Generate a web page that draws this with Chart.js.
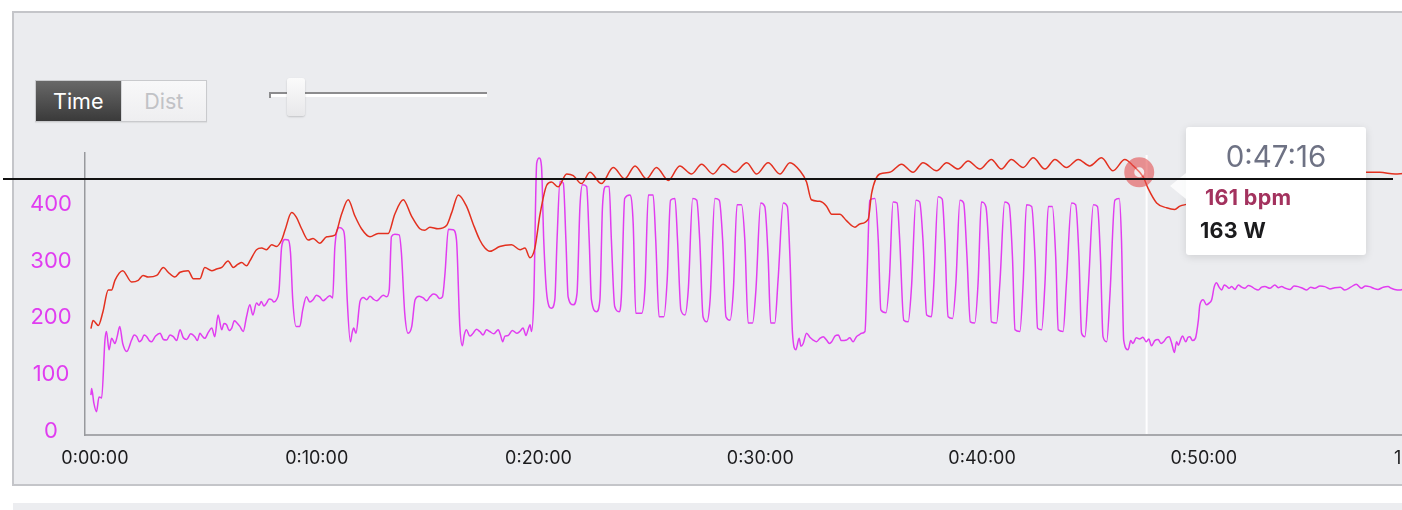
<!DOCTYPE html>
<html><head><meta charset="utf-8">
<script src="https://cdn.jsdelivr.net/npm/chart.js@4.4.1/dist/chart.umd.min.js"></script>
<style>
html,body{margin:0;padding:0;background:#fff;width:1402px;height:510px;overflow:hidden;font-family:Inter,"Liberation Sans",sans-serif;}
#panel{position:absolute;left:12px;top:11px;width:1500px;height:471px;background:#ebecef;border:2px solid #c4c5c9;}
#strip{position:absolute;left:13px;top:503px;width:1500px;height:20px;background:#ecedf0;}
#seg{position:absolute;left:35px;top:80px;width:172px;height:42px;display:flex;border:1px solid #c9cacd;box-sizing:border-box;box-shadow:0 1px 1px rgba(0,0,0,0.06);}
#seg div{width:50%;text-align:center;line-height:40px;font-size:21.5px;}
#seg .on{background:linear-gradient(#686868,#3a3a3a);color:#fff;}
#seg .off{background:linear-gradient(#f8f8f9,#eeeef0);color:#c1c2c6;border-left:1px solid #d6d7da;}
#track{position:absolute;left:269px;top:92px;width:218px;height:2px;background:#8c8c8e;}
#track2{position:absolute;left:269px;top:94px;width:218px;height:3px;background:#fff;}
#tick{position:absolute;left:269px;top:92px;width:2px;height:6px;background:#8c8c8e;}
#thumb{position:absolute;left:287px;top:78px;width:18px;height:38px;border-radius:3px;background:linear-gradient(#fbfbfb,#e8e8ea);box-shadow:0 1px 2px rgba(0,0,0,0.18);}
#c{position:absolute;left:0;top:0;z-index:2;}
#tip{position:absolute;display:none;z-index:3;width:180px;height:128px;background:#fff;border-radius:3px;box-shadow:0 2px 8px rgba(0,0,0,0.12);box-sizing:border-box;}
#tip:before{content:"";position:absolute;left:-16px;top:46px;border-top:13px solid transparent;border-bottom:13px solid transparent;border-right:16px solid rgba(255,255,255,0.8);}
#tipTitle{text-align:center;font-size:29.5px;color:#6e7284;padding-top:12px;line-height:35px;}
#tipBody{padding-top:11px;}
#tipBody div{font-weight:700;font-size:21.5px;line-height:24px;margin-bottom:9px;letter-spacing:0.3px;}
#refline{position:absolute;left:3px;width:1390px;height:2px;background:#111;z-index:4;}
</style>
</head><body>
<div id="panel"></div>
<div id="strip"></div>
<div id="seg"><div class="on">Time</div><div class="off">Dist</div></div>
<div id="track"></div><div id="track2"></div><div id="tick"></div><div id="thumb"></div>
<canvas id="c" width="1480" height="510" style="width:1480px;height:510px"></canvas>
<div id="tip"><div id="tipTitle"></div><div id="tipBody"></div></div>
<div id="refline"></div>
<script>
// ---- data (time in seconds) ----
const hrSeconds = [0,6,20,32,47,56,65,86,110,128,141,155,178,196,209,227,241,263,277,295,308,327,340,354,371,385,398,408,421,430,448,462,475,489,502,516,525,543,556,570,588,601,619,638,660,678,696,714,732,755,777,804,822,845,867,890,903,917,939,962,976,994,1016,1034,1052,1066,1079,1106,1138,1161,1174,1188,1201,1215,1233,1246,1264,1287,1305,1327,1350,1381,1413,1444,1472,1503,1530,1562,1593,1625,1652,1683,1710,1742,1774,1801,1832,1864,1891,1918,1936,1949,1972,1990,2004,2026,2044,2067,2080,2103,2112,2134,2161,2193,2224,2251,2288,2315,2346,2373,2405,2436,2463,2490,2522,2549,2581,2608,2639,2671,2702,2734,2765,2797,2820,2847,2860,2883,2910,2932,2946,2986,3040,3108,3189,3270,3351,3449,3487,3528,3596,3720];
const hrBpm = [64,69,66,74,88,88,94,100,93,94,97,96,97,102,99,96,99,100,95,95,102,100,101,102,106,102,104,105,103,106,113,114,113,116,115,119,125,136,133,126,119,120,117,121,122,135,144,134,126,121,123,123,135,144,134,126,125,127,126,128,136,147,140,129,119,114,112,115,116,113,114,108,114,135,153,155,152,160,159,154,161,154,164,157,165,157,164,156,165,160,166,160,166,161,167,160,167,160,167,162,155,144,143,140,135,135,131,127,129,132,148,160,161,166,161,167,162,167,163,168,163,169,163,169,164,170,163,169,164,169,165,170,162,169,165,158,151,142,139,138,140,142,144,150,155,158,159,161,161,160,161,161];

const powerSeconds = [0,2,8,15,22,29,38,42,49,56,65,71,78,86,97,110,117,124,131,137,144,151,158,164,175,187,196,205,214,223,232,241,250,259,270,281,288,295,301,308,318,327,335,344,354,360,367,374,381,388,394,403,412,421,430,438,448,455,461,468,475,482,489,495,502,509,516,525,534,540,546,555,565,573,583,592,601,610,619,628,638,646,654,660,672,682,687,693,702,707,711,717,728,737,746,755,764,773,782,791,800,807,813,822,834,840,849,858,868,877,888,899,908,917,926,935,943,951,958,967,980,989,998,1005,1010,1016,1025,1034,1043,1052,1061,1070,1079,1090,1102,1108,1114,1120,1129,1140,1152,1160,1169,1177,1183,1188,1192,1198,1206,1213,1219,1225,1234,1246,1255,1261,1269,1278,1285,1291,1305,1315,1323,1330,1341,1348,1354,1368,1377,1384,1393,1402,1408,1417,1429,1435,1444,1458,1467,1474,1490,1499,1508,1521,1528,1537,1550,1559,1568,1580,1587,1596,1607,1616,1628,1639,1647,1656,1666,1675,1688,1700,1709,1718,1729,1738,1748,1760,1769,1778,1790,1799,1812,1823,1832,1839,1850,1859,1873,1884,1891,1898,1907,1916,1921,1927,1936,1945,1954,1963,1972,1981,1990,1998,2004,2013,2022,2030,2044,2053,2062,2071,2078,2085,2094,2100,2107,2121,2130,2137,2151,2160,2170,2181,2188,2199,2211,2220,2232,2242,2251,2261,2274,2280,2292,2303,2310,2319,2331,2340,2351,2361,2370,2379,2391,2400,2409,2421,2430,2436,2450,2459,2472,2484,2493,2500,2513,2522,2531,2545,2554,2561,2572,2581,2590,2601,2610,2617,2630,2639,2653,2664,2673,2680,2689,2698,2712,2723,2731,2738,2748,2757,2770,2782,2788,2794,2806,2813,2819,2828,2837,2846,2855,2862,2869,2878,2887,2895,2902,2910,2917,2924,2931,2937,2942,2948,2953,2962,2968,2973,2980,2988,2996,3000,3009,3018,3025,3032,3039,3045,3052,3059,3066,3072,3079,3086,3095,3104,3113,3122,3131,3140,3149,3158,3167,3176,3190,3203,3212,3221,3232,3244,3255,3266,3278,3289,3300,3311,3325,3338,3352,3365,3380,3392,3408,3423,3437,3448,3459,3470,3482,3496,3509,3518,3527,3542,3560,3580,3600,3620,3640,3660,3680,3700,3720];
const powerWatts = [64,76,50,35,61,59,161,176,144,164,155,167,185,155,141,161,170,167,158,161,170,167,160,158,168,173,162,161,170,167,160,179,165,162,172,167,160,173,168,164,175,182,167,205,179,190,188,178,182,195,192,185,176,202,223,205,226,222,229,221,226,233,232,228,232,249,325,338,337,314,232,185,185,214,237,228,232,240,237,230,235,239,235,325,359,355,337,237,158,175,182,173,229,236,232,238,233,230,235,240,237,249,343,347,346,314,208,173,185,232,238,235,230,237,242,240,234,237,279,356,355,337,185,151,170,179,168,173,180,176,170,179,176,172,179,170,158,168,169,178,173,176,182,169,180,188,176,231,472,481,466,337,237,217,232,337,440,437,337,237,223,243,396,434,431,337,232,211,232,396,431,431,337,220,211,237,410,416,366,208,208,255,416,416,337,202,202,267,407,410,337,214,205,249,410,407,337,202,193,231,410,407,337,202,196,249,399,399,337,191,191,249,402,396,308,191,191,267,402,396,308,173,144,164,150,155,173,166,161,158,164,167,161,155,158,168,170,160,161,165,158,167,170,173,176,279,407,410,337,214,209,267,404,402,337,196,193,255,407,404,337,205,202,255,413,409,337,202,199,261,407,402,308,193,191,261,404,396,308,193,191,261,404,399,308,179,176,261,399,396,308,182,179,261,396,396,308,179,176,261,402,399,308,173,167,249,399,396,308,167,158,243,407,410,337,161,144,160,155,165,163,166,158,163,151,160,162,155,158,165,167,155,139,158,152,162,168,158,166,167,160,164,196,223,232,223,226,232,255,262,254,249,258,256,252,255,250,258,254,252,257,255,251,249,254,255,252,258,253,255,252,250,256,255,252,249,254,252,256,255,251,253,254,249,254,259,252,256,255,252,250,254,255,252,250,249,253,252,250,254,251,254,250,251,252];

const xTickSeconds = [0,600,1200,1800,2400,3000,3600];
const powerTicks = [0,100,200,300,400];

// cursor / hover state shown in the picture
const cursorSeconds = 2836;
const cursorBpm = 161;
const cursorWatts = 163;
const crosshairSeconds = 2856;
const refLineWatts = 444;

function fmt(s){
  const h = Math.floor(s/3600), m = Math.floor((s%3600)/60), ss = Math.round(s%60);
  return h + ':' + String(m).padStart(2,'0') + ':' + String(ss).padStart(2,'0');
}
function nearest(arr, v){ let bi=0; arr.forEach((a,i)=>{ if(Math.abs(a-v)<Math.abs(arr[bi]-v)) bi=i; }); return bi; }

const HR_COLOR = '#e3301f';
const PW_COLOR = '#e13df0';

Chart.Tooltip.positioners.cursor = function(){
  const c = this.chart;
  return { x: c.scales.x.getPixelForValue(cursorSeconds), y: c.scales.hr.getPixelForValue(cursorBpm) };
};

const overlay = {
  id: 'overlay',
  beforeDatasetsDraw(chart){
    const {ctx, chartArea} = chart;
    const x = chart.scales.x.getPixelForValue(crosshairSeconds);
    ctx.save();
    ctx.strokeStyle = 'rgba(255,255,255,0.95)';
    ctx.lineWidth = 2;
    ctx.beginPath(); ctx.moveTo(x, chartArea.top + 2); ctx.lineTo(x, chartArea.bottom - 1); ctx.stroke();
    ctx.restore();
  },
  afterDatasetsDraw(chart){
    const {ctx} = chart;
    const x = chart.scales.x.getPixelForValue(cursorSeconds);
    const y = chart.scales.hr.getPixelForValue(cursorBpm);
    ctx.save();
    ctx.beginPath(); ctx.arc(x, y, 5, 0, Math.PI*2);
    ctx.fillStyle = 'rgba(255,235,235,0.35)'; ctx.fill();
    ctx.beginPath(); ctx.arc(x, y, 10, 0, Math.PI*2);
    ctx.strokeStyle = 'rgba(226,80,80,0.6)'; ctx.lineWidth = 10; ctx.stroke();
    ctx.restore();
  },
  afterDraw(chart){
    const y = chart.scales.y.getPixelForValue(refLineWatts);
    document.getElementById('refline').style.top = (y - 1) + 'px';
  }
};

function externalTip({chart, tooltip}){
  const el = document.getElementById('tip');
  if (!tooltip || tooltip.opacity === 0 || !tooltip.body) { el.style.display = 'none'; return; }
  el.style.display = 'block';
  el.style.left = Math.round(tooltip.caretX + 47) + 'px';
  el.style.top = Math.round(tooltip.caretY - 45) + 'px';
  document.getElementById('tipTitle').textContent = (tooltip.title || []).join('');
  const body = document.getElementById('tipBody');
  body.innerHTML = '';
  tooltip.dataPoints.forEach((dp, i) => {
    const d = document.createElement('div');
    d.textContent = tooltip.body[i].lines.join('');
    if (dp.dataset.id === 'hr') { d.style.color = '#a3325e'; d.style.paddingLeft = '19px'; }
    else { d.style.color = '#1b1b1d'; d.style.paddingLeft = '14px'; }
    body.appendChild(d);
  });
}

const chart = new Chart(document.getElementById('c'), {
  type: 'line',
  data: {
    datasets: [
      { id:'hr', label:'Heart rate', data: hrSeconds.map((t,i)=>({x:t, y:hrBpm[i]})), yAxisID:'hr',
        borderColor: HR_COLOR, borderWidth: 1.5, pointRadius: 0, pointHoverRadius: 0,
        cubicInterpolationMode: 'monotone', order: 0 },
      { id:'pw', label:'Power', data: powerSeconds.map((t,i)=>({x:t, y:powerWatts[i]})), yAxisID:'y',
        borderColor: PW_COLOR, borderWidth: 1.5, pointRadius: 0, pointHoverRadius: 0,
        cubicInterpolationMode: 'monotone', order: 1 }
    ]
  },
  options: {
    responsive: false,
    devicePixelRatio: 1,
    animation: false,
    events: [],
    layout: { padding: { left: 0, top: 153, right: 14, bottom: 0 } },
    font: { family: 'Inter' },
    plugins: {
      legend: { display: false },
      tooltip: {
        enabled: false,
        position: 'cursor',
        external: externalTip,
        callbacks: {
          title: () => fmt(cursorSeconds),
          label: (ctx) => ctx.dataset.id === 'hr' ? cursorBpm + ' bpm' : cursorWatts + ' W'
        }
      }
    },
    scales: {
      x: {
        type: 'linear', min: -16, max: 3720,
        afterBuildTicks: (s) => { s.ticks = xTickSeconds.map(v => ({value: v})); },
        afterFit: (s) => { s.height = 75; },
        grid: { display: false, drawTicks: false },
        border: { display: true, color: '#a7a8ac', width: 2 },
        ticks: { color: '#1c1c1e', font: { family: 'Inter', size: 18 }, padding: 13, maxRotation: 0, autoSkip: false,
                 labelOffset: 4, callback: (v) => fmt(v) }
      },
      y: {
        position: 'left', min: -6, max: 490,
        afterBuildTicks: (s) => { s.ticks = powerTicks.map(v => ({value: v})); },
        afterFit: (s) => { s.width = 85; },
        grid: { display: false, drawTicks: false },
        border: { display: true, color: '#98999d', width: 1.5 },
        ticks: { color: '#e03cf0', font: { family: 'Inter', size: 22 }, padding: 13, crossAlign: 'center' }
      },
      hr: { display: false, min: -2, max: 173 }
    }
  },
  plugins: [overlay]
});

chart.tooltip.setActiveElements([
  { datasetIndex: 0, index: nearest(hrSeconds, cursorSeconds) },
  { datasetIndex: 1, index: nearest(powerSeconds, cursorSeconds) }
], { x: chart.scales.x.getPixelForValue(cursorSeconds), y: chart.scales.hr.getPixelForValue(cursorBpm) });
chart.update();
</script>
</body></html>
